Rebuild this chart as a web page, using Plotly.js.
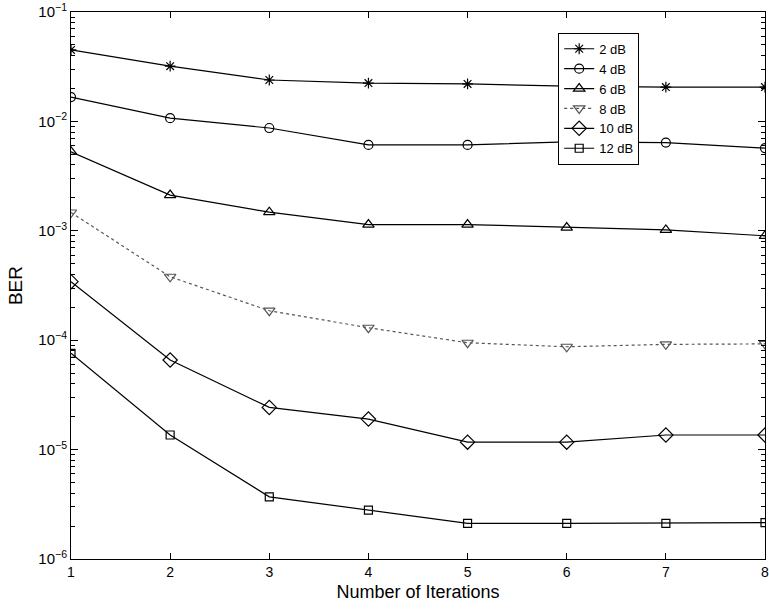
<!DOCTYPE html>
<html><head><meta charset="utf-8">
<script src="https://cdn.plot.ly/plotly-3.0.1.min.js"></script>
<style>body{margin:0;background:#fff}#c{width:769px;height:609px}</style>
</head><body><div id="c"></div>
<script>
const iterations = [1, 2, 3, 4, 5, 6, 7, 8];
const seriesNames = ["2 dB", "4 dB", "6 dB", "8 dB", "10 dB", "12 dB"];
const ber2dB  = [0.045, 0.032, 0.0239, 0.0224, 0.022, 0.021, 0.0206, 0.0206];
const ber4dB  = [0.0167, 0.0107, 0.0087, 0.0061, 0.0061, 0.0065, 0.0064, 0.0057];
const ber6dB  = [0.00528, 0.00212, 0.00148, 0.00114, 0.00114, 0.00107, 0.00102, 0.0009];
const ber8dB  = [0.00147, 0.00038, 0.000186, 0.00013, 0.0000948, 0.0000871, 0.0000916, 0.0000925];
const ber10dB = [0.000343, 0.0000659, 0.0000243, 0.000019, 0.0000117, 0.0000117, 0.0000136, 0.0000136];
const ber12dB = [0.0000759, 0.0000136, 0.0000037, 0.0000028, 0.00000212, 0.00000212, 0.00000212, 0.00000215];
const yTickVals = [1e-6, 1e-5, 1e-4, 1e-3, 1e-2, 1e-1];
const yTickText = ["10<sup>−6</sup>", "10<sup>−5</sup>", "10<sup>−4</sup>", "10<sup>−3</sup>", "10<sup>−2</sup>", "10<sup>−1</sup>"];

const allData = [ber2dB, ber4dB, ber6dB, ber8dB, ber10dB, ber12dB];
const symbols = ["asterisk-open", "circle-open", "triangle-up-open", "triangle-down-open", "diamond-open", "square-open"];
const sizes = [9, 9, 10, 10, 11, 8];
const dashes = ["solid", "solid", "solid", "dot", "solid", "solid"];
const colors = ["#000", "#000", "#000", "#555", "#000", "#000"];

const minorVals = [];
for (let e = -6; e < -1; e++) for (let m = 2; m <= 9; m++) minorVals.push(m * Math.pow(10, e));

const traces = allData.map((d, i) => ({
  x: iterations, y: d, name: seriesNames[i], type: "scatter", mode: "lines+markers",
  line: {color: colors[i], width: 1.2, dash: dashes[i]},
  marker: {symbol: symbols[i], size: sizes[i], color: colors[i], line: {width: 1.2, color: colors[i]}}
}));

const font = {family: "Liberation Sans, Arial, sans-serif", color: "#000"};
Plotly.newPlot("c", traces, {
  width: 769, height: 609,
  margin: {l: 71, r: 4, t: 12, b: 50},
  paper_bgcolor: "#fff", plot_bgcolor: "#fff",
  font: Object.assign({size: 14}, font),
  showlegend: true,
  legend: {x: 0.702, y: 0.962, xanchor: "left", yanchor: "top", bgcolor: "#fff",
    bordercolor: "#000", borderwidth: 1, font: Object.assign({size: 13}, font),
    tracegroupgap: 0, itemwidth: 30},
  xaxis: {range: [1, 8], tickvals: iterations, ticks: "inside", ticklen: 6, tickcolor: "#000",
    showline: true, linecolor: "#000", linewidth: 1, mirror: "ticks", showgrid: false, zeroline: false,
    ticklabeloverflow: "allow",
    tickfont: Object.assign({size: 14}, font),
    title: {text: "Number of Iterations", font: Object.assign({size: 18}, font), standoff: 6}},
  yaxis: {type: "log", range: [-6, -1], tickvals: yTickVals, ticktext: yTickText,
    ticks: "inside", ticklen: 7, tickcolor: "#000",
    showline: true, linecolor: "#000", linewidth: 1, mirror: "ticks", showgrid: false, zeroline: false,
    ticklabeloverflow: "allow",
    tickfont: Object.assign({size: 15}, font),
    minor: {tickmode: "array", tickvals: minorVals, ticks: "inside", ticklen: 4, tickcolor: "#000", showgrid: false},
    title: {text: "BER", font: Object.assign({size: 19}, font), standoff: 10}}
}, {displayModeBar: false, staticPlot: true});
</script></body></html>
